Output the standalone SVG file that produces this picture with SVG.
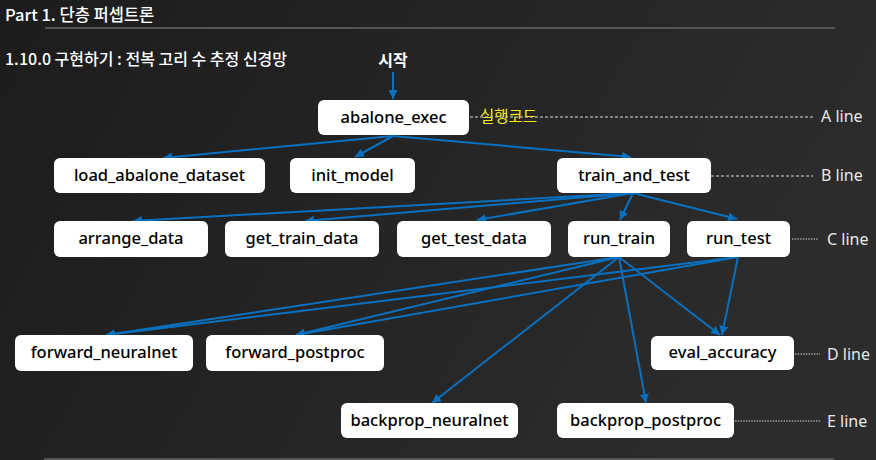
<svg xmlns="http://www.w3.org/2000/svg" width="876" height="460" viewBox="0 0 876 460">
<defs>
<linearGradient id="bg" x1="0" y1="0" x2="1" y2="0.3">
<stop offset="0" stop-color="#1c1c1c"/>
<stop offset="1" stop-color="#2c2c2c"/>
</linearGradient>
<marker id="ah" viewBox="0 0 10 10" refX="10" refY="5" markerWidth="9" markerHeight="9" markerUnits="userSpaceOnUse" orient="auto">
<path d="M0,0 L10,5 L0,10 z" fill="#0a70c0"/>
</marker>
<style>
.node rect{fill:#ffffff;}
.node text{font-family:"Noto Sans","Noto Sans CJK KR",sans-serif;font-size:16.5px;font-weight:500;fill:#000;text-anchor:middle;}
.conn line{stroke:#0a70c0;stroke-width:2;marker-end:url(#ah);}
.guide{stroke:#d8d8d8;stroke-width:1.2;}
.dash{stroke-dasharray:3,2;}
.dot{stroke-dasharray:1.5,1.2;}
.lbl{font-family:"Noto Sans","Noto Sans CJK KR",sans-serif;font-size:16px;fill:#e8e8e8;}
.title{font-family:"Noto Sans CJK KR","Noto Sans",sans-serif;fill:#fff;}
</style>
</defs>
<rect width="876" height="460" fill="url(#bg)"/>
<line x1="45" y1="28" x2="835" y2="28" stroke="#555" stroke-width="2"/>
<line x1="44" y1="459" x2="834" y2="459" stroke="#555" stroke-width="2"/>
<text class="title" x="5" y="21" font-size="16.5" font-weight="500">Part 1. 단층 퍼셉트론</text>
<text class="title" x="5" y="65" font-size="16" font-weight="500">1.10.0 구현하기 : 전복 고리 수 추정 신경망</text>
<text class="title" x="393" y="66" font-size="16" font-weight="700" text-anchor="middle">시작</text>

<g id="guides">
<line class="guide dash" x1="470" y1="117" x2="813" y2="117"/>
<line class="guide dash" x1="711" y1="176" x2="813" y2="176"/>
<line class="guide dot" x1="792" y1="239" x2="818" y2="239"/>
<line class="guide dot" x1="795" y1="354" x2="820" y2="354"/>
<line class="guide dot" x1="735" y1="421" x2="820" y2="421"/>
<text class="lbl" x="821" y="122">A line</text>
<text class="lbl" x="821" y="181">B line</text>
<text class="lbl" x="827" y="245">C line</text>
<text class="lbl" x="827" y="360">D line</text>
<text class="lbl" x="827" y="427">E line</text>
<text x="480" y="122" font-family="Noto Sans CJK KR,sans-serif" font-size="15.5" fill="#f2ee1a">실행코드</text>
</g>

<g id="connectors" class="conn">
<line x1="393" y1="72" x2="393" y2="99"/>
<line x1="393" y1="136" x2="163" y2="158"/>
<line x1="393" y1="136" x2="355" y2="157"/>
<line x1="393" y1="136" x2="631" y2="157"/>
<line x1="633" y1="193" x2="133" y2="221"/>
<line x1="633" y1="193" x2="305" y2="221"/>
<line x1="633" y1="193" x2="477" y2="220"/>
<line x1="633" y1="193" x2="620" y2="220"/>
<line x1="633" y1="193" x2="737" y2="219"/>
<line x1="619" y1="257" x2="106" y2="335"/>
<line x1="619" y1="257" x2="296" y2="335"/>
<line x1="619" y1="257" x2="432" y2="403"/>
<line x1="619" y1="257" x2="646" y2="403"/>
<line x1="619" y1="257" x2="720" y2="335"/>
<line x1="738" y1="257" x2="106" y2="335"/>
<line x1="738" y1="257" x2="296" y2="335"/>
<line x1="738" y1="257" x2="722" y2="335"/>
</g>

<g id="abalone_exec" class="node"><rect x="318" y="100" width="151" height="35" rx="6"/><text x="393.5" y="123">abalone_exec</text></g>
<g id="load_abalone_dataset" class="node"><rect x="54" y="158" width="211" height="35" rx="6"/><text x="159.5" y="181">load_abalone_dataset</text></g>
<g id="init_model" class="node"><rect x="290" y="158" width="125" height="35" rx="6"/><text x="352.5" y="181">init_model</text></g>
<g id="train_and_test" class="node"><rect x="557" y="158" width="154" height="35" rx="6"/><text x="634" y="181">train_and_test</text></g>
<g id="arrange_data" class="node"><rect x="54" y="221" width="154" height="36" rx="6"/><text x="131" y="244">arrange_data</text></g>
<g id="get_train_data" class="node"><rect x="225" y="221" width="154" height="36" rx="6"/><text x="302" y="244">get_train_data</text></g>
<g id="get_test_data" class="node"><rect x="397" y="221" width="154" height="36" rx="6"/><text x="474" y="244">get_test_data</text></g>
<g id="run_train" class="node"><rect x="568" y="221" width="102" height="36" rx="6"/><text x="619" y="244">run_train</text></g>
<g id="run_test" class="node"><rect x="687" y="221" width="103" height="36" rx="6"/><text x="738.5" y="244">run_test</text></g>
<g id="forward_neuralnet" class="node"><rect x="15" y="335" width="178" height="36" rx="6"/><text x="104" y="358">forward_neuralnet</text></g>
<g id="forward_postproc" class="node"><rect x="206" y="335" width="178" height="36" rx="6"/><text x="295" y="358">forward_postproc</text></g>
<g id="eval_accuracy" class="node"><rect x="651" y="336" width="143" height="34" rx="6"/><text x="722.5" y="358">eval_accuracy</text></g>
<g id="backprop_neuralnet" class="node"><rect x="341" y="403" width="177" height="35" rx="6"/><text x="429.5" y="426">backprop_neuralnet</text></g>
<g id="backprop_postproc" class="node"><rect x="557" y="403" width="177" height="35" rx="6"/><text x="645.5" y="426">backprop_postproc</text></g>
</svg>
